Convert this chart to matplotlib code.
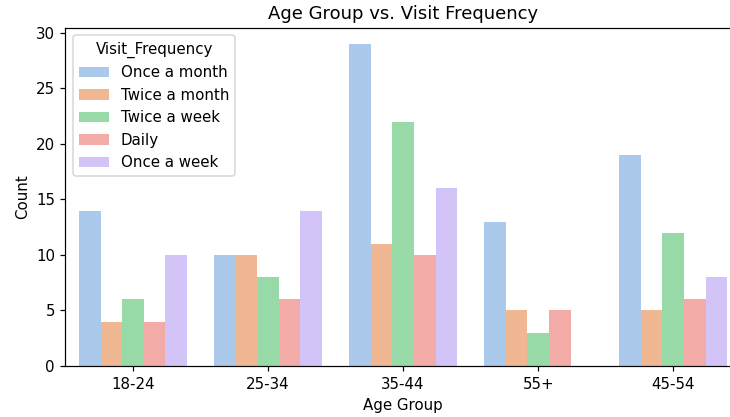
import matplotlib
matplotlib.use("Agg")
import matplotlib.pyplot as plt
import seaborn as sns
import numpy as np

age_groups = ["18-24", "25-34", "35-44", "55+", "45-54"]
frequencies = ["Once a month", "Twice a month", "Twice a week", "Daily", "Once a week"]
once_a_month = [14, 10, 29, 13, 19]
twice_a_month = [4, 10, 11, 5, 5]
twice_a_week = [6, 8, 22, 3, 12]
daily = [4, 6, 10, 5, 6]
once_a_week = [10, 14, 16, 0, 8]

series = [once_a_month, twice_a_month, twice_a_week, daily, once_a_week]
colors = [sns.desaturate(c, 0.75) for c in sns.color_palette("pastel", 5)]

DPI = 108
fig = plt.figure(figsize=(730 / DPI, 417 / DPI), dpi=DPI)
ax = fig.add_axes([0.0897, 0.1223, 0.925, 0.8106])
x = np.arange(len(age_groups))
w = 0.16
for i, (f, vals) in enumerate(zip(frequencies, series)):
    ax.bar(x + (i - 2) * w, vals, width=w, color=colors[i], label=f)
ax.set_xticks(x)
ax.set_xticklabels(age_groups)
ax.set_xlim(-0.5, 4.5)
ax.set_ylim(0, 30.45)
ax.spines["right"].set_visible(False)
ax.set_title("Age Group vs. Visit Frequency")
ax.set_xlabel("Age Group")
ax.set_ylabel("Count")
ax.legend(title="Visit_Frequency", loc="upper left")
fig.savefig("out.png", dpi=DPI)
